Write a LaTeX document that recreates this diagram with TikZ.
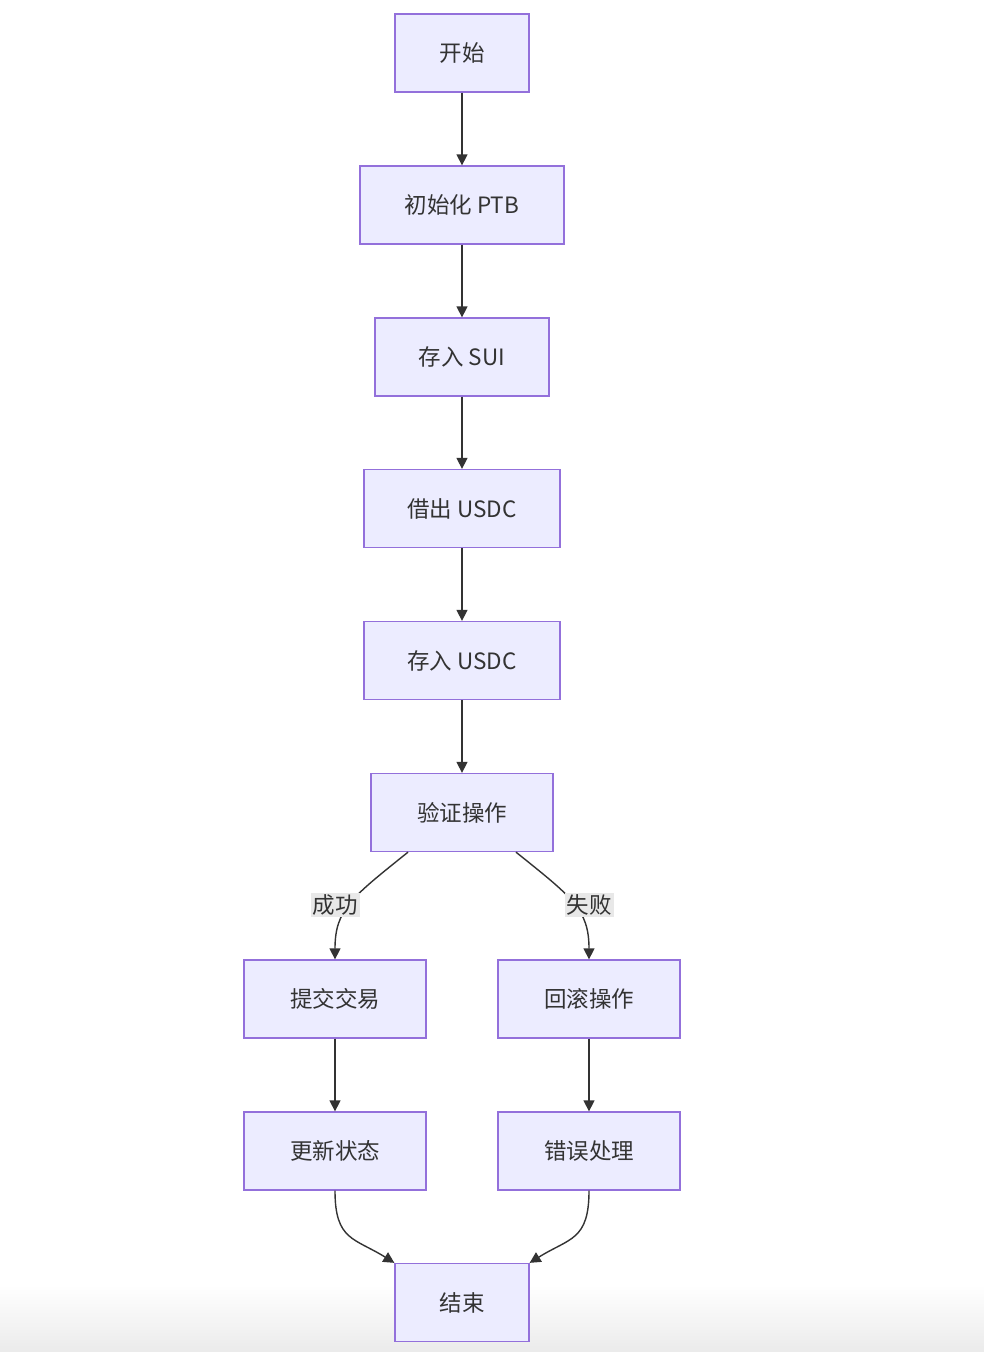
\documentclass[tikz,border=0pt]{standalone}
\usepackage{fontspec}
\setmainfont{Noto Sans CJK SC}
\usetikzlibrary{arrows.meta}
\definecolor{nodefill}{HTML}{ECECFF}
\definecolor{nodeborder}{HTML}{9370DB}
\definecolor{ink}{HTML}{333333}
\definecolor{lblbg}{HTML}{E8E8E8}
\tikzset{
  box/.style={draw=nodeborder, fill=nodefill, line width=1.3pt, minimum height=78pt, inner sep=0pt, text=ink, font=\fontsize{22.5pt}{26pt}\selectfont},
  conn/.style={draw=ink, line width=1.4pt, -{Triangle[length=11pt,width=11pt]}},
  lbl/.style={fill=lblbg, text=ink, inner sep=2pt, font=\fontsize{22.5pt}{26pt}\selectfont}
}
\begin{document}
\begin{tikzpicture}[x=1pt,y=-1pt]
\useasboundingbox (0,0) rectangle (984,1352);
\fill[white] (0,0) rectangle (984,1352);
\shade[top color=white, bottom color=black!8] (0,1285) rectangle (984,1352);
\node[box, minimum width=134pt] (start) at (462,53) {开始};
\node[box, minimum width=204pt] (init) at (462,205) {初始化 PTB};
\node[box, minimum width=174pt] (dsui) at (462,357) {存入 SUI};
\node[box, minimum width=196pt] (borrow) at (462,508.5) {借出 USDC};
\node[box, minimum width=196pt] (dusdc) at (462,660.5) {存入 USDC};
\node[box, minimum width=182pt] (verify) at (462,812.5) {验证操作};
\node[box, minimum width=182pt] (commit) at (335,999) {提交交易};
\node[box, minimum width=182pt] (rollback) at (589,999) {回滚操作};
\node[box, minimum width=182pt] (update) at (335,1151) {更新状态};
\node[box, minimum width=182pt] (err) at (589,1151) {错误处理};
\node[box, minimum width=134pt] (end) at (462,1302.5) {结束};

\draw[conn] (start) -- (init);
\draw[conn] (init) -- (dsui);
\draw[conn] (dsui) -- (borrow);
\draw[conn] (borrow) -- (dusdc);
\draw[conn] (dusdc) -- (verify);
\draw[conn] ([xshift=-54pt]verify.south) .. controls ([xshift=-110pt,yshift=-45pt]verify.south) and ([yshift=50pt]commit.north) .. (commit.north);
\draw[conn] ([xshift=54pt]verify.south) .. controls ([xshift=110pt,yshift=-45pt]verify.south) and ([yshift=50pt]rollback.north) .. (rollback.north);
\node[lbl] (lsucc) at (335,905) {成功};
\node[lbl] (lfail) at (589,905) {失败};
\draw[conn] (commit) -- (update);
\draw[conn] (rollback) -- (err);
\draw[conn] (update.south) .. controls ([yshift=-50pt]update.south) and ([xshift=-40pt,yshift=25pt]end.north west) .. (end.north west);
\draw[conn] (err.south) .. controls ([yshift=-50pt]err.south) and ([xshift=40pt,yshift=25pt]end.north east) .. (end.north east);
\end{tikzpicture}
\end{document}
